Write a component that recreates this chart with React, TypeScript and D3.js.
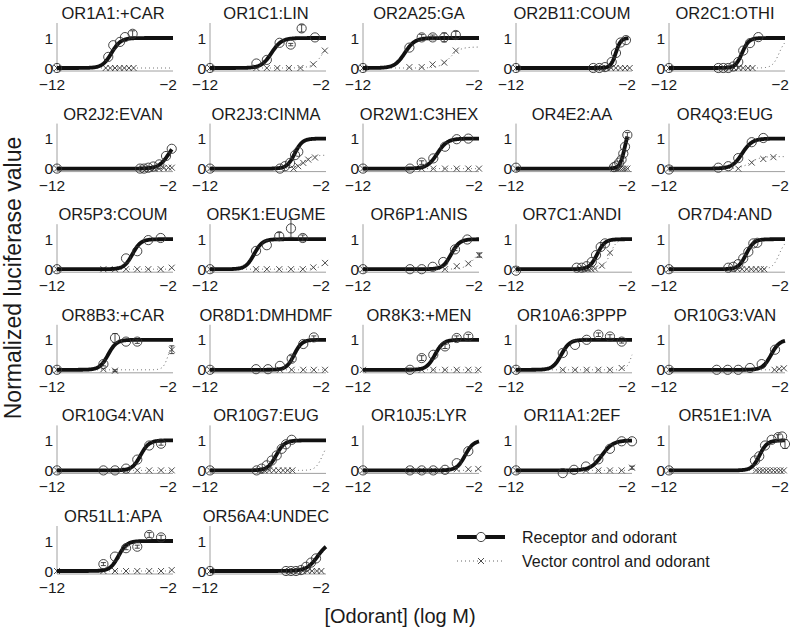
import React from 'react'
import * as d3 from 'd3'

/* page size and panel grid (5 columns, 6 rows) */
const width = 800
const height = 631
const panelW = 116
const colStep = 153
const rowStep = 100.6
const left0 = 57
const zero0 = 68
const font = 'Liberation Sans, Arial, Helvetica, sans-serif'

const titles = [
    'OR1A1:+CAR', 'OR1C1:LIN', 'OR2A25:GA', 'OR2B11:COUM', 'OR2C1:OTHI',
    'OR2J2:EVAN', 'OR2J3:CINMA', 'OR2W1:C3HEX', 'OR4E2:AA', 'OR4Q3:EUG',
    'OR5P3:COUM', 'OR5K1:EUGME', 'OR6P1:ANIS', 'OR7C1:ANDI', 'OR7D4:AND',
    'OR8B3:+CAR', 'OR8D1:DMHDMF', 'OR8K3:+MEN', 'OR10A6:3PPP', 'OR10G3:VAN',
    'OR10G4:VAN', 'OR10G7:EUG', 'OR10J5:LYR', 'OR11A1:2EF', 'OR51E1:IVA',
    'OR51L1:APA', 'OR56A4:UNDEC',
]

/* receptor + odorant: [log M, normalized value, error] */
const receptorPts: number[][][] = [
    [[-12, 0], [-7.58, 0.37], [-7.15, 0.76], [-6.57, 0.87], [-6.14, 1.03], [-5.48, 1.14, 0.1]],
    [[-12, 0], [-8.0, 0.15], [-7.1, 0.27], [-6.0, 0.84], [-5.04, 0.78, 0.04], [-4.1, 1.32, 0.12], [-2.95, 1.02]],
    [[-12, 0], [-8.0, 0.68], [-6.94, 1.02, 0.1], [-5.99, 1.02, 0.08], [-5.0, 1.02, 0.15], [-4.0, 1.1, 0.12]],
    [[-12, 0], [-5.34, 0], [-4.82, 0], [-4.33, 0.03], [-3.75, 0.2], [-3.38, 0.5], [-2.98, 0.85], [-2.52, 0.93]],
    [[-12, 0], [-7.75, 0], [-7.32, 0], [-6.89, 0], [-6.46, 0.05], [-6.03, 0.2], [-5.6, 0.58], [-5.02, 0.83], [-4.3, 1.03]],
    [[-12, 0], [-4.84, 0], [-4.5, 0], [-4.13, 0.03], [-3.7, 0.07], [-3.18, 0.14], [-2.6, 0.42], [-2.11, 0.66]],
    [[-12, 0], [-5.97, 0], [-5.54, 0.08], [-5.1, 0.19], [-4.67, 0.45], [-4.39, 0.56]],
    [[-12, 0], [-7.95, 0], [-6.94, 0.2, 0.06], [-5.94, 0.34], [-4.93, 0.73], [-3.92, 0.98], [-2.92, 1.0]],
    [[-12, 0.03], [-3.55, 0.05], [-3.32, 0.1], [-3.1, 0.2], [-2.9, 0.3], [-2.75, 0.5], [-2.6, 0.73], [-2.4, 1.12, 0.08]],
    [[-12, -0.03], [-7.75, 0.03], [-6.89, 0.08], [-6.03, 0.35], [-4.87, 0.88], [-3.87, 1.02]],
    [[-12, 0], [-6.05, 0.36], [-5.08, 0.6], [-4.13, 0.97], [-3.06, 1.04]],
    [[-12, 0], [-8.03, 0.61], [-7.1, 0.8], [-6.03, 1.1, 0.12], [-5.02, 1.36, 0.3], [-4.0, 1.04, 0.1]],
    [[-12, 0], [-7.95, 0], [-6.94, 0], [-5.99, 0.08], [-5.08, 0.24], [-4.07, 0.66, 0.04], [-3.01, 0.99]],
    [[-12, -0.05], [-6.77, 0.05], [-6.34, 0.05], [-5.91, 0.1], [-5.47, 0.24], [-5.1, 0.47], [-4.7, 0.74], [-4.33, 0.86]],
    [[-12, 0], [-6.89, 0.05], [-6.46, 0.08], [-6.03, 0.17], [-5.6, 0.36], [-5.16, 0.58], [-4.73, 0.86], [-4.39, 0.88]],
    [[-12, 0], [-8.0, 0.19, 0.06], [-7.0, 1.06, 0.15], [-6.05, 0.94], [-5.08, 0.94, 0.06]],
    [[-12, 0], [-8.03, 0.02], [-7.0, 0.02], [-5.97, 0.13], [-4.96, 0.37, 0.1], [-3.96, 0.86], [-3.05, 1.08, 0.05]],
    [[-7.95, 0, 0.05], [-6.94, 0.39, 0.08], [-5.94, 0.5], [-4.93, 0.78, 0.07], [-3.92, 1.06, 0.07], [-2.92, 1.11, 0.07]],
    [[-12, 0], [-7.97, 0.56], [-6.91, 0.83], [-5.91, 1.0, 0.05], [-4.9, 1.17, 0.06], [-3.9, 1.11, 0.06], [-2.89, 0.94, 0.05]],
    [[-12, 0], [-7.89, 0], [-6.94, 0], [-6.03, 0], [-5.02, 0.06], [-4.01, 0.19], [-2.86, 0.67]],
    [[-12, 0], [-8.0, 0], [-7.0, 0], [-6.05, 0.06], [-5.08, 0.36], [-4.05, 0.83], [-3.03, 0.89, 0.05]],
    [[-12, 0], [-7.98, 0], [-7.55, 0.06], [-7.11, 0.17], [-6.68, 0.33], [-6.25, 0.5], [-5.82, 0.72], [-5.45, 0.87], [-4.96, 1.02]],
    [[-12, 0], [-7.95, 0], [-6.94, 0], [-5.94, 0], [-4.93, 0.02], [-3.92, 0.24], [-2.92, 0.64]],
    [[-12, 0], [-7.97, -0.09], [-7.0, 0.02], [-5.97, 0.13], [-4.9, 0.37], [-3.9, 0.72], [-2.89, 0.97], [-2.0, 0.97]],
    [[-12, 0], [-4.59, 0.33], [-4.22, 0.47], [-3.72, 0.83], [-3.15, 1.02], [-2.58, 1.11, 0.08], [-2.25, 1.13], [-2.0, 0.88, 0.15]],
    [[-8.0, 0.23, 0.05], [-7.0, 0.48], [-6.05, 0.76, 0.05], [-5.08, 0.81, 0.05], [-4.05, 1.2, 0.08], [-3.03, 1.12, 0.07]],
    [[-12, 0], [-5.45, 0], [-5.02, 0], [-4.59, 0], [-4.16, 0.03], [-3.72, 0.14], [-3.29, 0.28], [-2.86, 0.42]],
]

/* vector control + odorant */
const controlPts: number[][][] = [
    [[-12, 0], [-7.8, 0], [-7.4, 0], [-7.0, 0], [-6.6, 0], [-6.2, 0], [-5.8, 0], [-5.4, 0]],
    [[-12, 0], [-8, 0], [-7.1, 0], [-6.2, 0], [-5.2, 0], [-4.2, 0], [-3.1, 0.12], [-2.1, 0.58]],
    [[-12, 0], [-8, 0.03], [-6.94, 0.03], [-6, 0.12], [-5, 0.18], [-4, 0.58]],
    [[-12, 0], [-5.0, 0], [-4.6, 0], [-4.2, 0], [-3.8, 0], [-3.4, 0], [-3.0, 0], [-2.6, 0], [-2.2, 0]],
    [[-12, 0], [-6.8, 0], [-6.4, 0], [-6.0, 0], [-5.6, 0], [-5.2, 0], [-4.8, 0]],
    [[-12, 0], [-4.6, 0], [-4.3, 0], [-4.0, 0], [-3.6, 0], [-3.2, 0], [-2.8, 0.02], [-2.4, 0.03], [-2.1, 0.03]],
    [[-12, 0], [-4.8, 0], [-4.4, 0.08], [-3.96, 0.19], [-3.53, 0.3], [-2.95, 0.37]],
    [[-12, 0], [-6.94, 0], [-5.94, 0], [-4.93, 0], [-3.92, 0], [-2.92, 0], [-2.0, 0]],
    [[-12, 0], [-3.6, 0], [-3.4, 0], [-3.2, 0], [-3.0, 0], [-2.8, 0], [-2.6, 0], [-2.4, 0]],
    [[-12, 0], [-6.03, 0], [-4.87, 0.2], [-3.87, 0.32], [-3.0, 0.38]],
    [[-12, 0], [-8, 0], [-7, 0], [-6.05, 0], [-5.08, 0], [-4.13, 0], [-3.06, 0], [-2.11, 0.05]],
    [[-12, 0], [-8.03, 0], [-7.1, 0], [-6.03, 0], [-5.02, 0], [-4.0, 0], [-3.09, 0.06], [-2.08, 0.21]],
    [[-12, 0], [-4.93, 0], [-3.92, 0.1], [-2.92, 0.19], [-1.97, 0.47, 0.07]],
    [[-12, 0], [-6.4, 0], [-6.1, 0], [-5.8, 0], [-5.5, 0], [-5.2, 0.02], [-4.6, 0.12], [-3.9, 0.55]],
    [[-12, 0], [-6.5, 0], [-6.1, 0], [-5.7, 0], [-5.3, 0], [-4.9, 0], [-4.5, 0], [-4.1, 0], [-3.8, 0]],
    [[-12, 0], [-8.0, 0.02], [-7.0, -0.03, 0.03], [-2.1, 0.67, 0.13]],
    [[-12, 0], [-5.97, 0], [-4.96, 0], [-3.96, 0], [-3.05, 0], [-2.08, 0]],
    [[-12, 0], [-6.94, 0], [-5.94, 0], [-4.93, 0], [-3.92, 0], [-2.92, 0], [-2.06, 0]],
    [[-12, 0], [-7.97, 0], [-6.91, 0], [-5.91, 0], [-4.9, 0], [-3.9, 0], [-2.89, 0.06]],
    [[-12, 0], [-2.9, 0], [-2.5, 0.03], [-2.1, 0.05]],
    [[-12, 0], [-6.05, 0], [-5.08, 0], [-4.05, 0], [-3.03, 0], [-2.11, 0]],
    [[-12, 0], [-7.7, 0], [-7.3, 0], [-6.9, 0], [-6.5, 0], [-6.1, 0], [-5.7, 0], [-5.3, 0], [-4.9, 0]],
    [[-12, 0], [-7.95, 0], [-6.94, 0], [-5.94, 0], [-4.93, 0], [-3.92, 0.04], [-2.92, 0.04], [-2.06, 0.05]],
    [[-12, 0], [-5.97, 0], [-4.9, 0], [-3.9, 0], [-2.89, 0], [-2.0, 0.09, 0.05]],
    [[-12, 0], [-4.5, 0], [-4.2, 0], [-3.9, 0], [-3.6, 0], [-3.3, 0], [-3.0, 0], [-2.7, 0], [-2.4, 0], [-2.1, 0]],
    [[-12, 0], [-8, 0], [-7, 0], [-6.05, 0], [-5.08, 0], [-4.05, 0], [-3.03, 0], [-2.11, 0.03]],
    [[-12, 0], [-5.2, 0], [-4.8, 0], [-4.4, 0], [-4.0, 0], [-3.6, 0], [-3.2, 0], [-2.8, 0], [-2.4, 0]],
]

/* fitted Hill parameters: receptor (thick line) */
const fitEC50 = [-7.3, -6.7, -8.4, -3.4, -5.7, -2.35, -4.7, -5.6, -2.6, -5.7, -5.5, -8.2, -4.4, -5.0, -5.35, -7.6, -4.75, -5.8, -8.1, -3.2, -4.8, -6.3, -3.2, -4.6, -4.2, -6.7, -2.7]
const fitSlope = [1.1, 1, 1, 2, 1.5, 1, 1.3, 1, 2, 1, 1.2, 1.2, 1.2, 1.3, 1.3, 1.2, 1.3, 1.2, 1.2, 1.2, 1.2, 1.2, 1.2, 0.9, 1.3, 1.2, 0.9]
const fitTop = [1, 1, 1, 1, 1, 1, 1, 1, 1.5, 1, 1, 1, 1, 1, 1, 1, 1, 1, 1, 1, 1, 1, 1, 1, 1, 1, 1]
const fitEnd = [-2, -2, -2, -2.3, -2, -2.1, -2, -2, -2.4, -2, -2, -2, -2, -2, -2, -2, -2, -2, -2, -2, -2, -2, -2, -2, -2, -2, -2]

/* fitted Hill parameters: vector control (dotted line) */
const ctrlEC50 = [-2, -2.25, -4.5, -2, -2.5, -2, -4.0, -2, -2, -5, -2, -1.5, -2.3, -3.9, -2.5, -2.4, -2, -2, -2.0, -2, -2, -2.3, -2, -2, -2, -2, -2]
const ctrlSlope = [1, 1, 1, 1, 1.5, 1, 1, 1, 1, 1, 1, 1, 1, 1.5, 1.5, 2, 1, 1, 2, 1, 1, 1.5, 1, 1, 1, 1, 1]
const ctrlTop = [0, 1, 0.7, 0, 1, 0, 0.45, 0, 0, 0.4, 0, 1, 0.8, 1, 1, 1, 0, 0, 1, 0, 0, 1, 0, 0, 0, 0, 0]

const hill = (v: number, ec50: number, h: number, top: number) =>
    top / (1 + Math.pow(10, (ec50 - v) * h))

const ink = '#1a1a1a'

function ErrorBar({ cx, y0, y1 }: { cx: number; y0: number; y1: number }) {
    return (
        <g stroke="#333" strokeWidth={0.9}>
            <line x1={cx} x2={cx} y1={y0} y2={y1} />
            <line x1={cx - 2.5} x2={cx + 2.5} y1={y0} y2={y0} />
            <line x1={cx - 2.5} x2={cx + 2.5} y1={y1} y2={y1} />
        </g>
    )
}

function Panel({ i }: { i: number }) {
    const c = i % 5
    const r = Math.floor(i / 5)
    const left = left0 + c * colStep
    const zy = zero0 + r * rowStep
    const x = d3.scaleLinear().domain([-12, -2]).range([left, left + panelW])
    const y = d3.scaleLinear().domain([0, 1]).range([zy, zy - 30])

    const line = d3
        .line<number>()
        .x((v) => x(v))
        .y((v) => y(hill(v, fitEC50[i], fitSlope[i], fitTop[i])))
    const ctrlLine = d3
        .line<number>()
        .x((v) => x(v))
        .y((v) => y(hill(v, ctrlEC50[i], ctrlSlope[i], ctrlTop[i])))
    const grid = d3.range(-12, fitEnd[i] + 0.001, 0.05)
    const ctrlGrid = d3.range(-12, -2 + 0.001, 0.05)

    return (
        <g>
            {/* title */}
            <text x={left + 56} y={zy - 49} textAnchor="middle" fontSize={16.5} fill={ink}>
                {titles[i]}
            </text>
            {/* axes */}
            <line x1={left} x2={left} y1={y(1.5)} y2={y(-0.1)} stroke="#888" strokeWidth={0.8} />
            <line x1={left} x2={left + panelW} y1={y(-0.1)} y2={y(-0.1)} stroke="#888" strokeWidth={0.8} />
            {[0, 1].map((t) => (
                <text key={t} x={left - 4} y={y(t) + 5.5} textAnchor="end" fontSize={15.5} fill={ink}>
                    {t}
                </text>
            ))}
            {[-12, -2].map((t) => (
                <text key={t} x={x(t) - 5} y={zy + 22} textAnchor="middle" fontSize={15.5} fill={ink}>
                    {'\u2212' + Math.abs(t)}
                </text>
            ))}
            {/* vector control fit and points */}
            <path d={ctrlLine(ctrlGrid) || ''} fill="none" stroke="#555" strokeWidth={0.9} strokeDasharray="1 3" />
            {controlPts[i].map((p, k) => {
                const cx = x(p[0])
                const cy = y(p[1])
                return (
                    <g key={k}>
                        {p[2] ? <ErrorBar cx={cx} y0={y(p[1] - p[2])} y1={y(p[1] + p[2])} /> : null}
                        <path
                            d={`M${cx - 3},${cy - 3}L${cx + 3},${cy + 3}M${cx - 3},${cy + 3}L${cx + 3},${cy - 3}`}
                            stroke="#3a3a3a"
                            strokeWidth={0.9}
                        />
                    </g>
                )
            })}
            {/* receptor fit */}
            <path d={line(grid) || ''} fill="none" stroke="#111" strokeWidth={3.8} strokeLinejoin="round" />
            {/* receptor points */}
            {receptorPts[i].map((p, k) => {
                const cx = x(p[0])
                const cy = y(p[1])
                return (
                    <g key={k}>
                        {p[2] ? <ErrorBar cx={cx} y0={y(p[1] - p[2])} y1={y(p[1] + p[2])} /> : null}
                        <circle cx={cx} cy={cy} r={4.6} fill="none" stroke="#333" strokeWidth={0.9} />
                    </g>
                )
            })}
        </g>
    )
}

export default function App() {
    return (
        <svg
            width={width}
            height={height}
            style={{ position: 'absolute', left: 0, top: 0, background: '#fff' }}
            fontFamily={font}
        >
            <rect width={width} height={height} fill="#fff" />
            {titles.map((_, i) => (
                <Panel key={i} i={i} />
            ))}
            {/* axis titles */}
            <text transform="translate(21,278) rotate(-90)" textAnchor="middle" fontSize={23} fill={ink}>
                Normalized luciferase value
            </text>
            <text x={400} y={623} textAnchor="middle" fontSize={20} fill={ink}>
                [Odorant] (log M)
            </text>
            {/* legend */}
            <g>
                <line x1={457} x2={505} y1={537} y2={537} stroke="#111" strokeWidth={3.8} />
                <circle cx={481} cy={537} r={4.6} fill="#fff" stroke="#333" strokeWidth={0.9} />
                <text x={522} y={543} fontSize={16} fill={ink}>
                    Receptor and odorant
                </text>
                <line x1={457} x2={505} y1={561} y2={561} stroke="#555" strokeWidth={0.9} strokeDasharray="1 3" />
                <path d="M478,558L484,564M478,564L484,558" stroke="#3a3a3a" strokeWidth={0.9} />
                <text x={522} y={567} fontSize={16} fill={ink}>
                    Vector control and odorant
                </text>
            </g>
        </svg>
    )
}
